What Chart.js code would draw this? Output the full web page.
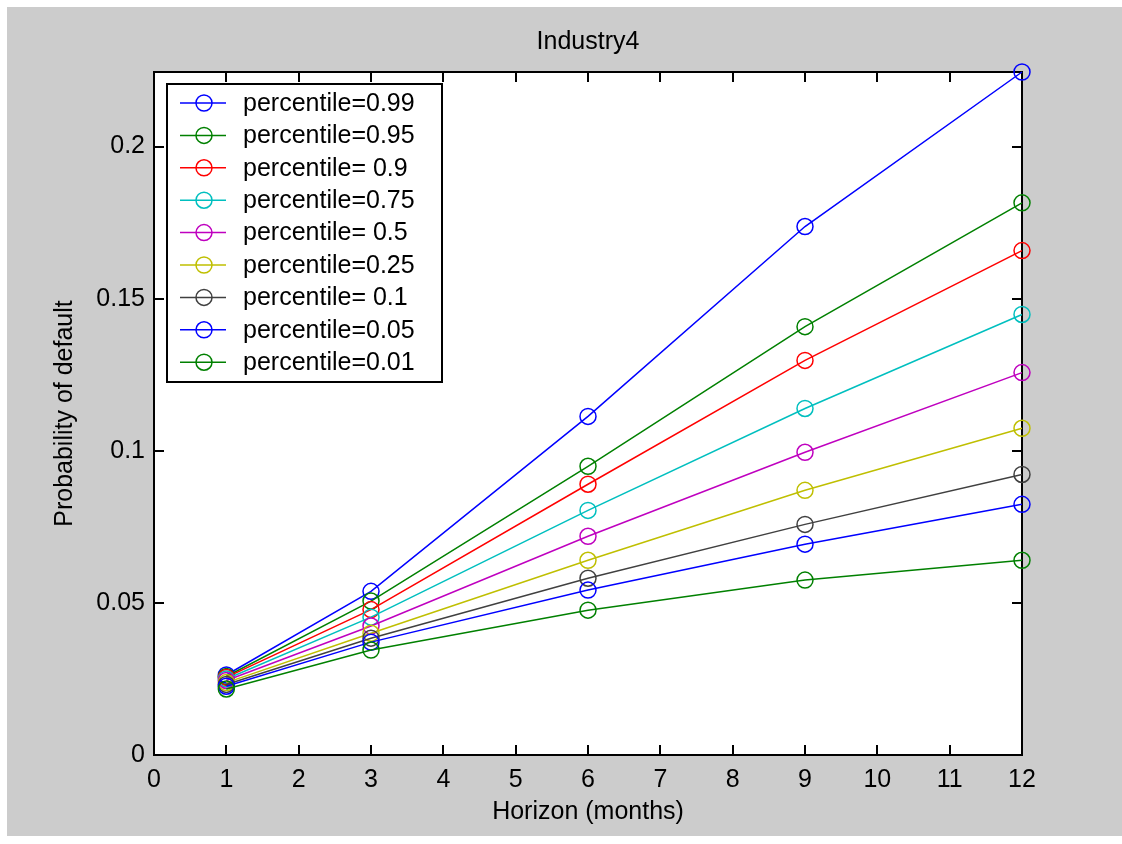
<!DOCTYPE html>
<html>
<head>
<meta charset="utf-8">
<title>Industry4</title>
<script src="https://cdn.jsdelivr.net/npm/chart.js@4.4.1/dist/chart.umd.min.js"></script>
<style>
  html, body { margin: 0; padding: 0; background: #fff; }
  canvas { display: block; }
</style>
</head>
<body>
<canvas id="pdChart" width="1122" height="844"></canvas>
<script>
// horizon in months
const horizons = [1, 3, 6, 9, 12];

// probability of default per percentile
const p99 = [0.0263, 0.0538, 0.1113, 0.1737, 0.2245];
const p95 = [0.0258, 0.0506, 0.0949, 0.1408, 0.1815];
const p90 = [0.0255, 0.0478, 0.0890, 0.1297, 0.1658];
const p75 = [0.0250, 0.0453, 0.0804, 0.1139, 0.1448];
const p50 = [0.0245, 0.0424, 0.0719, 0.0995, 0.1257];
const p25 = [0.0238, 0.0400, 0.0640, 0.0870, 0.1074];
const p10 = [0.0232, 0.0384, 0.0581, 0.0758, 0.0922];
const p05 = [0.0226, 0.0371, 0.0542, 0.0693, 0.0824];
const p01 = [0.0217, 0.0345, 0.0476, 0.0575, 0.0640];

const seriesLabels = ["percentile=0.99", "percentile=0.95", "percentile= 0.9", "percentile=0.75",
  "percentile= 0.5", "percentile=0.25", "percentile= 0.1", "percentile=0.05", "percentile=0.01"];
const seriesValues = [p99, p95, p90, p75, p50, p25, p10, p05, p01];
const seriesColors = ["#0000ff", "#008000", "#ff0000", "#00bfbf", "#bf00bf", "#bfbf00", "#404040", "#0000ff", "#008000"];

const xTicks = [0, 1, 2, 3, 4, 5, 6, 7, 8, 9, 10, 11, 12];
const yTicks = [0, 0.05, 0.1, 0.15, 0.2];

const FONT = '"Liberation Sans", Arial, sans-serif';
Chart.defaults.font.family = FONT;
Chart.defaults.font.size = 25;
Chart.defaults.color = "#000";

// matlab style frame: gray figure, box with inward ticks, legend inside
const matlabAxes = {
  id: "matlabAxes",
  beforeDraw(chart) {
    const { ctx, chartArea: a } = chart;
    ctx.save();
    ctx.fillStyle = "#fff";
    ctx.fillRect(0, 0, chart.width, chart.height);
    ctx.fillStyle = "#cccccc";
    ctx.fillRect(7, 7, chart.width - 7, 829);
    ctx.fillStyle = "#fff";
    ctx.fillRect(a.left, a.top, a.right - a.left, a.bottom - a.top);
    ctx.restore();
  },
  beforeDatasetsDraw(chart) {
    const { ctx, chartArea: a, scales } = chart;
    const tl = 10;
    ctx.save();
    ctx.strokeStyle = "#000";
    ctx.lineWidth = 2;
    ctx.beginPath();
    xTicks.forEach(v => {
      const x = Math.round(scales.x.getPixelForValue(v));
      ctx.moveTo(x, a.bottom); ctx.lineTo(x, a.bottom - tl);
      ctx.moveTo(x, a.top); ctx.lineTo(x, a.top + tl);
    });
    yTicks.forEach(v => {
      const y = Math.round(scales.y.getPixelForValue(v));
      ctx.moveTo(a.left, y); ctx.lineTo(a.left + tl, y);
      ctx.moveTo(a.right, y); ctx.lineTo(a.right - tl, y);
    });
    ctx.stroke();
    ctx.strokeRect(a.left, a.top, a.right - a.left, a.bottom - a.top);
    ctx.restore();
  },
  afterDraw(chart) {
    const ctx = chart.ctx;
    const box = { x: 167, y: 84, w: 275, h: 298 };
    ctx.save();
    ctx.fillStyle = "#fff";
    ctx.fillRect(box.x, box.y, box.w, box.h);
    ctx.strokeStyle = "#000";
    ctx.lineWidth = 2;
    ctx.strokeRect(box.x, box.y, box.w, box.h);
    ctx.font = "25px " + FONT;
    ctx.textBaseline = "middle";
    chart.data.datasets.forEach((ds, i) => {
      const y = 103 + i * 32.4;
      ctx.strokeStyle = ds.borderColor;
      ctx.lineWidth = 1.5;
      ctx.beginPath();
      ctx.moveTo(180, y); ctx.lineTo(226, y);
      ctx.stroke();
      ctx.beginPath();
      ctx.arc(204, y, 8, 0, Math.PI * 2);
      ctx.stroke();
      ctx.fillStyle = "#000";
      ctx.fillText(ds.label, 243, y + 1);
    });
    ctx.restore();
  }
};

new Chart(document.getElementById("pdChart"), {
  type: "line",
  data: {
    datasets: seriesValues.map((vals, i) => ({
      label: seriesLabels[i],
      data: horizons.map((h, j) => ({ x: h, y: vals[j] })),
      borderColor: seriesColors[i],
      backgroundColor: "transparent",
      borderWidth: 1.5,
      pointStyle: "circle",
      pointRadius: 8,
      pointBorderWidth: 1.5,
      pointBackgroundColor: "transparent",
      tension: 0,
      clip: false,
      order: seriesValues.length - i
    }))
  },
  options: {
    responsive: false,
    animation: false,
    events: [],
    layout: { padding: { left: 0, right: 100, top: 0, bottom: 0 } },
    plugins: {
      legend: { display: false },
      tooltip: { enabled: false },
      title: {
        display: true,
        text: "Industry4",
        fullSize: false,
        font: { size: 25, weight: "normal" },
        color: "#000",
        padding: { top: 27, bottom: 15 }
      }
    },
    scales: {
      x: {
        type: "linear",
        min: 0,
        max: 12,
        grid: { display: false, drawTicks: false },
        border: { display: false },
        ticks: { stepSize: 1, padding: 10, maxRotation: 0, autoSkip: false, font: { size: 25 } },
        title: { display: true, text: "Horizon (months)", font: { size: 25 }, padding: { top: 0, bottom: 17 } },
        afterFit(scale) { scale.height = 89; }
      },
      y: {
        type: "linear",
        bounds: "data",
        min: 0,
        max: 0.2245,
        grid: { display: false, drawTicks: false },
        border: { display: false },
        ticks: {
          stepSize: 0.05,
          includeBounds: false,
          padding: 9,
          font: { size: 25 },
          callback: v => String(+v.toFixed(2))
        },
        title: { display: true, text: "Probability of default", font: { size: 25 }, padding: { top: 50, bottom: 0 } },
        afterFit(scale) { scale.width = 154; }
      }
    }
  },
  plugins: [matlabAxes]
});
</script>
</body>
</html>
